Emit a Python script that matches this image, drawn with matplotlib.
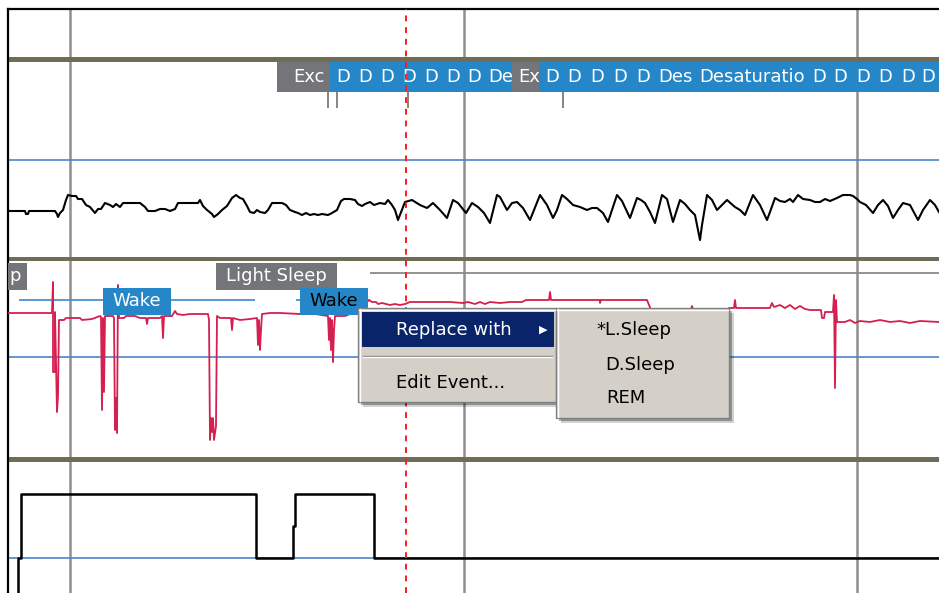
import matplotlib.pyplot as plt
from matplotlib.patches import Rectangle
from matplotlib.transforms import Bbox, TransformedBbox

# Values: x = sample column, y = screen level.

# airflow channel
flow_x = [8, 25, 26, 28, 29, 55, 57, 58, 60, 63,
          66, 68, 72, 76, 78, 82, 86, 90, 95, 98,
          101, 105, 110, 113, 116, 120, 123, 127, 135, 140,
          145, 148, 155, 160, 165, 170, 175, 178, 190, 198,
          200, 203, 207, 212, 214, 218, 222, 227, 232, 236,
          240, 243, 247, 250, 254, 257, 260, 265, 268, 272,
          277, 282, 286, 290, 295, 298, 302, 306, 310, 314,
          318, 322, 328, 332, 337, 341, 344, 350, 355, 358,
          362, 365, 370, 374, 380, 385, 388, 392, 395, 398,
          405, 412, 420, 427, 433, 440, 447, 453, 458, 462,
          466, 472, 478, 484, 490, 497, 500, 507, 512, 517,
          523, 530, 540, 547, 553, 557, 562, 567, 573, 580,
          587, 592, 597, 603, 608, 612, 617, 622, 630, 637,
          641, 645, 650, 655, 662, 667, 673, 680, 685, 690,
          695, 700, 702, 707, 712, 717, 722, 727, 735, 740,
          745, 753, 760, 767, 770, 775, 780, 785, 790, 793,
          798, 803, 810, 815, 820, 825, 830, 837, 843, 850,
          853, 857, 860, 866, 873, 878, 883, 888, 893, 898,
          903, 910, 918, 923, 930, 935, 939]
flow_y = [211, 211, 214, 214, 211, 211, 214, 217, 213, 210,
          200, 195, 196, 196, 199, 199, 205, 207, 213, 209,
          209, 203, 205, 207, 204, 207, 203, 203, 203, 203,
          207, 211, 211, 209, 209, 211, 209, 203, 203, 203,
          200, 206, 210, 214, 217, 214, 210, 206, 198, 195,
          198, 199, 206, 212, 213, 210, 212, 213, 210, 203,
          203, 203, 205, 210, 212, 213, 215, 213, 215, 214,
          215, 214, 215, 213, 210, 201, 199, 199, 200, 204,
          206, 204, 202, 205, 203, 204, 200, 205, 210, 220,
          202, 200, 205, 208, 203, 210, 218, 200, 203, 208,
          213, 203, 207, 213, 223, 195, 197, 210, 203, 202,
          208, 220, 195, 205, 218, 210, 195, 199, 205, 207,
          210, 208, 208, 213, 222, 210, 195, 201, 218, 198,
          200, 203, 212, 223, 195, 199, 222, 200, 204, 210,
          215, 240, 225, 195, 200, 210, 205, 200, 207, 210,
          215, 195, 205, 220, 212, 198, 201, 202, 199, 202,
          195, 199, 200, 202, 202, 199, 201, 198, 195, 195,
          196, 199, 202, 205, 213, 205, 200, 206, 218, 210,
          203, 205, 220, 210, 200, 205, 212]

# SpO2 channel
spo2_x = [8, 52, 53, 53, 55, 55, 57, 58, 59, 64,
          66, 80, 82, 92, 100, 101, 102, 103, 104, 105,
          108, 113, 114, 115, 116, 117, 118, 119, 124, 126,
          135, 140, 146, 147, 148, 160, 162, 163, 164, 172,
          175, 177, 183, 190, 200, 208, 209, 210, 211, 212,
          213, 214, 216, 217, 220, 225, 231, 232, 233, 240,
          250, 257, 258, 259, 260, 261, 262, 270, 280, 300,
          315, 328, 329, 330, 331, 332, 333, 334, 335, 345,
          360, 369, 372, 376, 378, 382, 390, 395, 400, 405,
          410, 430, 450, 463, 468, 475, 480, 485, 490, 500,
          510, 522, 526, 549, 550, 551, 600, 600, 601, 647,
          649, 652, 690, 692, 694, 727, 729, 734, 735, 736,
          770, 772, 774, 780, 785, 790, 795, 800, 805, 810,
          821, 822, 824, 825, 833, 834, 835, 836, 837, 845,
          850, 855, 860, 870, 880, 890, 900, 910, 920, 939]
spo2_y = [313, 313, 282, 372, 372, 312, 412, 396, 320, 320,
          318, 318, 320, 319, 316, 317, 410, 318, 392, 316,
          316, 316, 318, 430, 398, 433, 285, 318, 318, 316,
          316, 318, 318, 324, 318, 318, 316, 338, 316, 316,
          311, 314, 315, 314, 314, 314, 320, 440, 418, 432,
          418, 440, 426, 316, 318, 318, 318, 330, 318, 320,
          319, 318, 345, 320, 350, 330, 314, 313, 313, 314,
          314, 316, 340, 318, 350, 320, 362, 330, 316, 316,
          310, 300, 302, 302, 304, 303, 305, 304, 305, 304,
          302, 302, 302, 303, 302, 304, 302, 304, 302, 303,
          302, 302, 300, 300, 292, 300, 300, 303, 300, 300,
          305, 312, 312, 306, 312, 312, 308, 308, 300, 308,
          308, 303, 307, 305, 308, 305, 309, 306, 309, 310,
          310, 318, 318, 312, 312, 295, 388, 300, 322, 322,
          320, 323, 321, 322, 320, 322, 321, 323, 321, 322]

# bottom channel (on/off)
step_x = [18, 18, 21, 21, 256, 256, 293, 293, 295, 295, 374, 374, 939]
step_y = [593, 558, 558, 494, 494, 558, 558, 526, 526, 494, 494, 558, 558]

# scored events in the top row (labels as the viewer shows them, truncated)
event_start = [277, 330, 352, 374, 396, 418, 440, 461, 482, 512, 539, 561,
               584, 607, 630, 652, 693, 806, 827, 850, 872, 895, 915]
event_text = ['Exc', 'D', 'D', 'D', 'D', 'D', 'D', 'D', 'De',
              'Ex', 'D', 'D', 'D', 'D', 'D', 'Des', 'Desaturatio',
              'D', 'D', 'D', 'D', 'D', 'D']
event_kind = ['exc', 'des', 'des', 'des', 'des', 'des', 'des', 'des', 'des',
              'exc', 'des', 'des', 'des', 'des', 'des', 'des', 'des', 'des',
              'des', 'des', 'des', 'des', 'des']
event_view_end = 939
event_marks = [328, 337, 408, 563]

# hypnogram
stage_edges = [-88, 19, 255, 296, 370, 939]
stage_names = ['Light Sleep', 'Wake', 'Light Sleep', 'Wake', 'Light Sleep']
stage_label_x = [-34, 137, 276, 334]
stage_label_stage = ['Light Sleep', 'Wake', 'Light Sleep', 'Wake']
stage_label_shown = ['p', 'Wake', 'Light Sleep', 'Wake']
stage_label_col = ['white', 'white', 'white', 'black']

menu_items = ['Replace with', 'Edit Event...']
submenu_items = ['*L.Sleep', 'D.Sleep', 'REM']

# ---- styles / layout ----
OLIVE = '#6f6d58'
REF_BLUE = '#4a86c8'
GRID = '#8f8f8f'
EV_BLUE = '#2687c8'
EV_GRAY = '#737578'
MENU_BG = '#d4d0c8'
MENU_HI = '#0a246a'
FS = 13
VIEW_LEFT = 8

stage_level = {'Wake': 300, 'Light Sleep': 273}
stage_line = {'Wake': '#4a90d0', 'Light Sleep': '#8a8a8a'}
stage_box = {'Wake': (301, 68, EV_BLUE), 'Light Sleep': (276, 121, EV_GRAY)}
event_color = {'exc': EV_GRAY, 'des': EV_BLUE}

fig = plt.figure(figsize=(9.39, 5.93), dpi=100)
ax = fig.add_axes([VIEW_LEFT / 939, 0, 931 / 939, 584 / 593])
ax.set_xlim(VIEW_LEFT, 939)
ax.set_ylim(593, 9)
ax.set_xticks([])
ax.set_yticks([])
for s in ['right', 'bottom']:
    ax.spines[s].set_visible(False)
for s in ['left', 'top']:
    ax.spines[s].set_linewidth(1.6)
    ax.spines[s].set_color('black')

# grid, channel separators, reference lines
for x in [70, 464, 857]:
    ax.axvline(x, color=GRID, lw=1.8, zorder=1)
for y0, y1 in [(56.5, 61.5), (256.5, 261), (456.5, 461.5)]:
    ax.axhspan(y0, y1, color=OLIVE, lw=0, zorder=2)
for y in [160, 357, 558]:
    ax.axhline(y, color=REF_BLUE, lw=1.2, zorder=1.5)
ax.axvline(406, color='#ff1a1a', lw=1.4, ls=(0, (3, 3)), zorder=6)

# signals
ax.plot(flow_x, flow_y, color='black', lw=1.5, zorder=3)
ax.plot(spo2_x, spo2_y, color='#d41f4f', lw=1.3, zorder=3)
ax.plot(step_x, step_y, color='black', lw=1.8, zorder=3)

# hypnogram lines
for i, name in enumerate(stage_names):
    ax.hlines(stage_level[name], stage_edges[i], stage_edges[i + 1],
              color=stage_line[name], lw=1.3, zorder=2.5)

# hypnogram labels
for xc, stg, shown, col in zip(stage_label_x, stage_label_stage,
                               stage_label_shown, stage_label_col):
    yc, w, fc = stage_box[stg]
    ax.add_patch(Rectangle((xc - w / 2, yc - 13.5), w, 27, fc=fc, lw=0, zorder=4))
    if xc - w / 2 < VIEW_LEFT:
        # label scrolled off the left edge: only its tail is visible
        ax.text(xc + w / 2 - 6, yc, shown, color=col, fontsize=FS,
                ha='right', va='center', zorder=4.5)
    else:
        ax.text(xc, yc, shown, color=col, fontsize=FS, ha='center',
                va='center', zorder=4.5)

# event row
ends = event_start[1:] + [event_view_end]
for i, (s, e, txt, k) in enumerate(zip(event_start, ends, event_text, event_kind)):
    pad = 16 if i == 0 else 6
    ax.add_patch(Rectangle((s, 62), e - s, 30, fc=event_color[k], lw=0, zorder=4))
    t = ax.text(s + pad, 77.5, txt, color='white', fontsize=FS,
                ha='left', va='center', zorder=4.5, clip_on=True)
    t.set_clip_box(TransformedBbox(Bbox([[s, 62], [e, 92]]), ax.transData))
ax.vlines(event_marks, 92, 108, color='#707070', lw=1.2, zorder=3)


def draw_menu(x0, y0, x1, y1):
    ax.add_patch(Rectangle((x0 + 5, y0 + 5), x1 - x0, y1 - y0, fc='black', alpha=0.18, lw=0, zorder=9))
    ax.add_patch(Rectangle((x0 + 3, y0 + 3), x1 - x0, y1 - y0, fc='black', alpha=0.3, lw=0, zorder=9))
    ax.add_patch(Rectangle((x0, y0), x1 - x0, y1 - y0, fc=MENU_BG, ec='#808080', lw=1, zorder=10))
    ax.plot([x0 + 1, x1 - 1], [y0 + 1.5, y0 + 1.5], color='white', lw=1, zorder=10.5)
    ax.plot([x0 + 1.5, x0 + 1.5], [y0 + 1, y1 - 1], color='white', lw=1, zorder=10.5)


# context menu
draw_menu(358, 308, 556, 402)
ax.add_patch(Rectangle((362, 312), 192, 35, fc=MENU_HI, lw=0, zorder=11))
ax.text(396, 330, menu_items[0], color='white', fontsize=FS, va='center', zorder=12)
ax.text(543, 330, '\u25b6', color='white', fontsize=8, ha='center', va='center', zorder=12)
ax.plot([363, 552], [355.5, 355.5], color='#808080', lw=1, zorder=11)
ax.plot([363, 552], [357, 357], color='white', lw=1, zorder=11)
ax.text(396, 383, menu_items[1], color='black', fontsize=FS, va='center', zorder=12)

# submenu
draw_menu(556, 308, 729, 418)
for (xt, yt), txt in zip([(596, 330), (605, 365), (606, 398)], submenu_items):
    ax.text(xt, yt, txt, color='black', fontsize=FS, va='center', zorder=12)

fig.savefig('out.png', dpi=100)
